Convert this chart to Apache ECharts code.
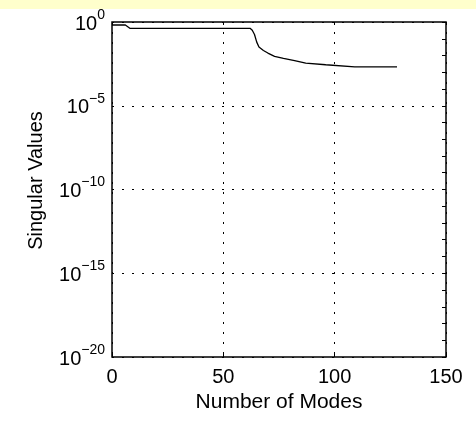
<!DOCTYPE html>
<html>
<head>
<meta charset="utf-8">
<script src="https://cdn.jsdelivr.net/npm/echarts@6/dist/echarts.min.js"></script>
<style>
  html, body { margin: 0; padding: 0; background: #fff; }
  #main { width: 476px; height: 425px; }
</style>
</head>
<body>
<div id="main"></div>
<script>
// modes and singular values
var modes = [0, 6, 8, 62, 63, 64, 65, 66, 68, 70, 73, 77, 82, 87, 96, 109, 128];
var values = [0.66, 0.66, 0.42, 0.42, 0.32, 0.18, 0.063, 0.032, 0.02, 0.014, 0.0089, 0.0068, 0.005, 0.0035, 0.0028, 0.0021, 0.0021];
var xTicks = [0, 50, 100, 150];

var chart = echarts.init(document.getElementById('main'));

var points = modes.map(function (m, i) { return [m, values[i]]; });
var font = 'Liberation Sans, Arial, sans-serif';
var gridLine = { show: true, lineStyle: { color: '#000', width: 1, type: [2, 8] } };

var option = {
  backgroundColor: '#fff',
  animation: false,
  graphic: [{
    type: 'rect', left: 0, top: 0,
    shape: { width: 476, height: 9 },
    style: { fill: '#ffffcc' }
  }],
  grid: { left: 112, right: 30, top: 22, bottom: 68, show: true, borderColor: '#000', borderWidth: 1.5 },
  xAxis: [{
    type: 'value', min: 0, max: 150, interval: 50,
    name: 'Number of Modes', nameLocation: 'middle', nameGap: 31,
    nameTextStyle: { color: '#000', fontSize: 21, fontFamily: font },
    axisLine: { show: false, onZero: false },
    axisTick: { show: true, inside: true, length: 3, lineStyle: { color: '#000' } },
    axisLabel: { color: '#000', fontSize: 20, fontFamily: font, margin: 10,
      formatter: function (v) { return xTicks.indexOf(v) >= 0 ? String(v) : ''; } },
    splitLine: gridLine
  }, {
    type: 'value', min: 0, max: 150, interval: 50, position: 'top',
    axisLine: { show: false, onZero: false },
    axisTick: { show: true, inside: true, length: 3, lineStyle: { color: '#000' } },
    axisLabel: { show: false },
    splitLine: { show: false }
  }],
  yAxis: [{
    type: 'log', logBase: 10, min: 1e-20, max: 1, interval: 5,
    name: 'Singular Values', nameLocation: 'middle', nameGap: 66,
    nameTextStyle: { color: '#000', fontSize: 20, fontFamily: font, padding: [0, 0, 0, 18] },
    axisLine: { show: false, onZero: false },
    axisTick: { show: false, length: 0, lineStyle: { color: 'rgba(0,0,0,0)' } },
    minorTick: { show: false },
    axisLabel: {
      color: '#000', margin: 7,
      formatter: function (v) {
        var e = Math.round(Math.log10(v));
        return '{b|10}{s|' + (e === 0 ? '0' : '\u2212' + (-e)) + '}';
      },
      rich: {
        b: { fontSize: 20, fontFamily: font, color: '#000', verticalAlign: 'bottom', padding: [0, 0, 2, 0] },
        s: { fontSize: 14, fontFamily: font, color: '#000', verticalAlign: 'top', padding: [0, 0, 14, 0] }
      }
    },
    splitLine: gridLine
  }, {
    type: 'log', logBase: 10, min: 1e-20, max: 1, interval: 1, position: 'right',
    axisLine: { show: false, onZero: false },
    axisTick: { show: true, inside: true, length: 4, lineStyle: { color: '#000' } },
    axisLabel: { show: false },
    splitLine: { show: false }
  }],
  series: [{
    type: 'line',
    data: points,
    showSymbol: false,
    lineStyle: { color: '#000', width: 1.3 },
    clip: true
  }]
};

chart.setOption(option);
</script>
</body>
</html>
